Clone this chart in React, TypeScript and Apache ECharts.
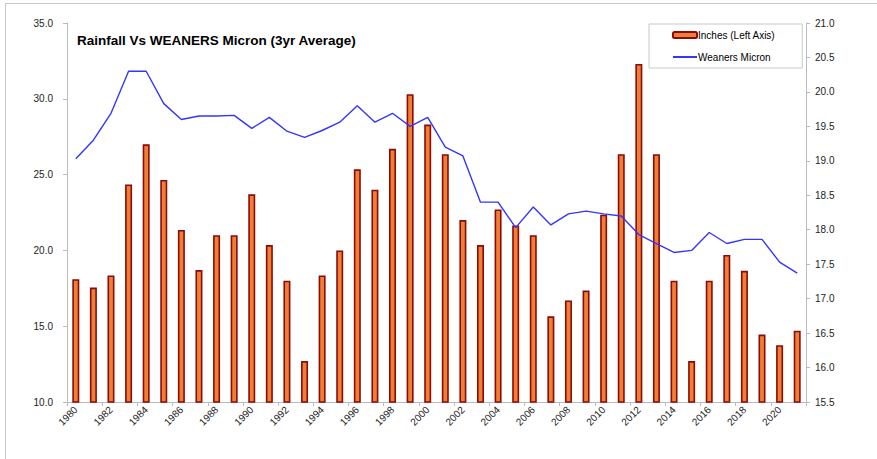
import React, { useEffect, useRef } from "react";
import * as echarts from "echarts";

const years: string[] = [];
for (let y = 1980; y <= 2021; y++) years.push(String(y));

const rainfallInches = [
  18.1, 17.55, 18.35, 24.35, 27.0, 24.65, 21.35, 18.7, 21.0, 21.0,
  23.7, 20.35, 18.0, 12.7, 18.35, 20.0, 25.35, 24.0, 26.7, 30.3,
  28.3, 26.35, 22.0, 20.35, 22.7, 21.65, 21.0, 15.65, 16.7, 17.35,
  22.35, 26.35, 32.3, 26.35, 18.0, 12.7, 18.0, 19.7, 18.65, 14.45,
  13.75, 14.7,
];

const weanersMicron = [
  19.03, 19.3, 19.69, 20.3, 20.3, 19.83, 19.6, 19.65, 19.65, 19.66,
  19.47, 19.63, 19.43, 19.34, 19.44, 19.56, 19.8, 19.56, 19.69, 19.5,
  19.63, 19.2, 19.07, 18.4, 18.4, 18.03, 18.33, 18.07, 18.23, 18.27,
  18.23, 18.2, 17.93, 17.8, 17.67, 17.7, 17.96, 17.8, 17.86, 17.86,
  17.53, 17.37,
];

const titleText = "Rainfall Vs WEANERS Micron (3yr Average)";
const barName = "Inches (Left Axis)";
const lineName = "Weaners Micron";

const FONT = "Arial, 'Liberation Sans', sans-serif";

export default function App() {
  const ref = useRef<HTMLDivElement>(null);
  useEffect(() => {
    document.body.style.margin = "0";
    const chart = echarts.init(ref.current!, null, { renderer: "svg" });
    chart.setOption({
      animation: false,
      backgroundColor: "#ffffff",
      textStyle: { fontFamily: FONT },
      title: {
        text: titleText,
        left: 77,
        top: 33,
        padding: 0,
        textStyle: { fontSize: 13.5, fontWeight: "bold", color: "#000", fontFamily: FONT },
      },
      legend: {
        orient: "vertical",
        left: 649,
        top: 24,
        padding: [6, 27, 6, 23],
        itemGap: 12,
        itemWidth: 24,
        itemHeight: 6,
        borderColor: "#c8c8c8",
        borderWidth: 1,
        textStyle: { fontSize: 10, color: "#000", fontFamily: FONT, padding: [0, 0, 0, -4] },
        data: [
          { name: barName },
          { name: lineName, itemStyle: { opacity: 0 } },
        ],
      },
      graphic: [
        { type: "line", shape: { x1: 5, y1: 3.5, x2: 877, y2: 3.5 }, style: { stroke: "#c8c8c8", lineWidth: 1 } },
        { type: "line", shape: { x1: 5.5, y1: 3, x2: 5.5, y2: 459 }, style: { stroke: "#c8c8c8", lineWidth: 1 } },
      ],
      grid: { left: 67, right: 71, top: 23, bottom: 57, containLabel: false },
      xAxis: {
        type: "category",
        data: years,
        boundaryGap: true,
        axisLine: { lineStyle: { color: "#bbbbbb" } },
        axisTick: { show: true, interval: 1, length: 4, lineStyle: { color: "#bbbbbb" } },
        axisLabel: {
          interval: 1,
          rotate: 45,
          fontSize: 10,
          color: "#222",
          margin: 6,
          fontFamily: FONT,
        },
      },
      yAxis: [
        {
          type: "value",
          min: 10,
          max: 35,
          interval: 5,
          splitLine: { show: false },
          axisLine: { show: true, lineStyle: { color: "#bbbbbb" } },
          axisTick: { show: true, length: 4, lineStyle: { color: "#bbbbbb" } },
          axisLabel: {
            fontSize: 10,
            color: "#222",
            margin: 14,
            fontFamily: FONT,
            formatter: (v: number) => v.toFixed(1),
          },
        },
        {
          type: "value",
          min: 15.5,
          max: 21,
          interval: 0.5,
          position: "right",
          splitLine: { show: false },
          axisLine: { show: true, lineStyle: { color: "#bbbbbb" } },
          axisTick: { show: true, length: 4, lineStyle: { color: "#bbbbbb" } },
          axisLabel: {
            fontSize: 10,
            color: "#222",
            margin: 9,
            fontFamily: FONT,
            formatter: (v: number) => v.toFixed(1),
          },
        },
      ],
      series: [
        {
          name: barName,
          type: "bar",
          yAxisIndex: 0,
          data: rainfallInches,
          barWidth: 7,
          itemStyle: { color: "#ef7f35", borderColor: "#8b0a0a", borderWidth: 1.6 },
        },
        {
          name: lineName,
          type: "line",
          yAxisIndex: 1,
          data: weanersMicron,
          symbol: "none",
          lineStyle: { color: "#3535ff", width: 1.4 },
          itemStyle: { color: "#3535ff" },
        },
      ],
    });
    return () => chart.dispose();
  }, []);
  return <div ref={ref} style={{ width: 877, height: 459 }} />;
}
